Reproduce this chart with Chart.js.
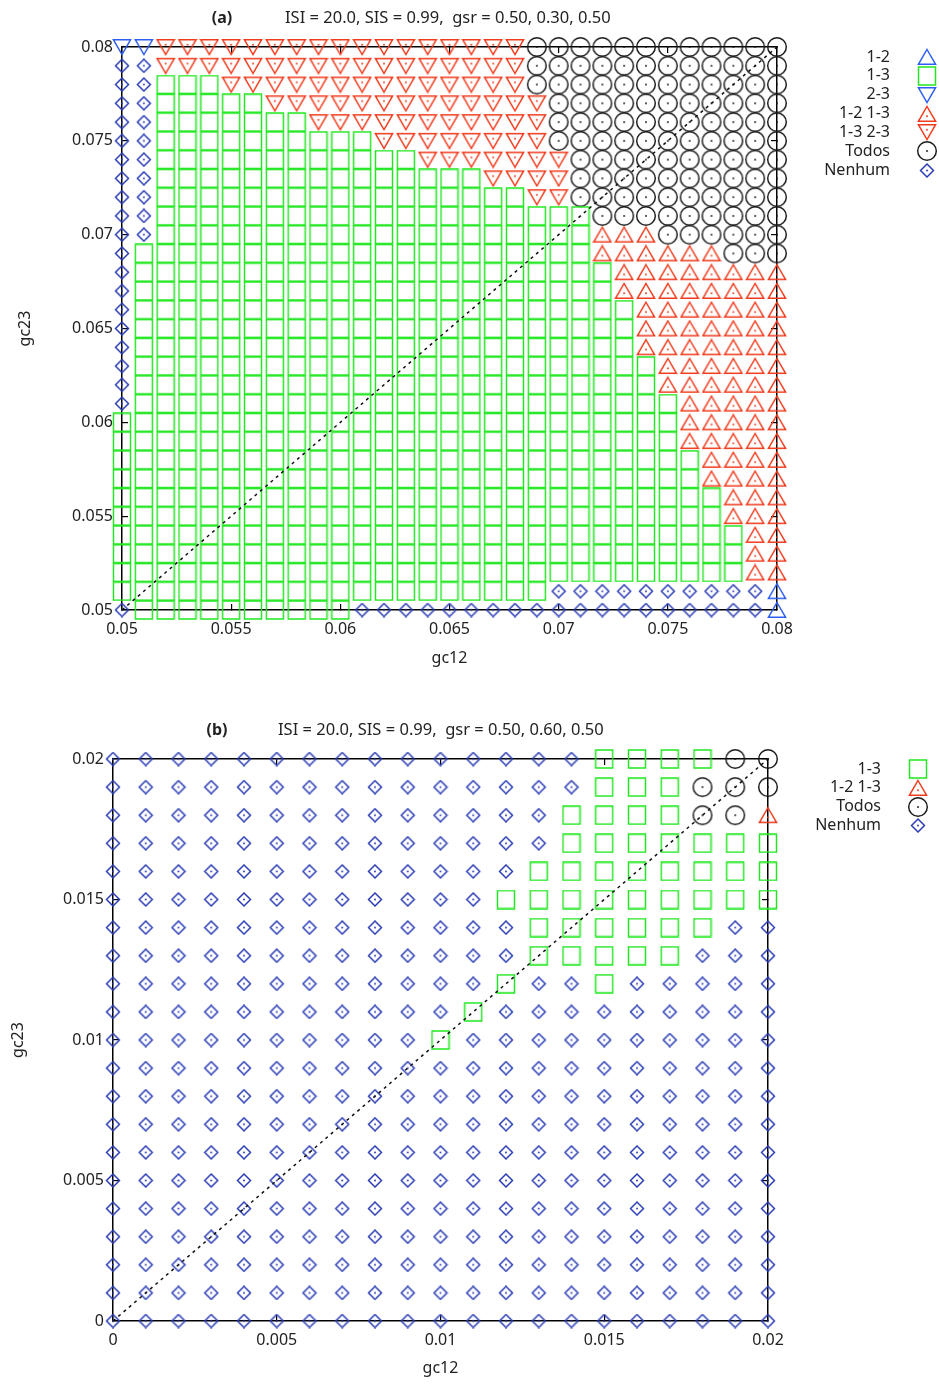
<!DOCTYPE html>
<html><head><meta charset="utf-8">
<script src="https://cdn.jsdelivr.net/npm/chart.js@4.4.1/dist/chart.umd.min.js"></script>
<style>
html,body{margin:0;padding:0;background:#fff;}
canvas{display:block;}
</style></head>
<body>
<canvas id="ca" width="939" height="700"></canvas>
<canvas id="cb" width="939" height="685"></canvas>
<script>
// ---------------- DATA ----------------
const categoryCodes = ['A', 'B', 'C', 'D', 'E', 'T', 'N'];
const categoryNames = ['1-2', '1-3', '2-3', '1-2 1-3', '1-3 2-3', 'Todos', 'Nenhum'];

// Panel (a)
const titleA = 'ISI = 20.0, SIS = 0.99,  gsr = 0.50, 0.30, 0.50';
const gc12A = [0.050, 0.051, 0.052, 0.053, 0.054, 0.055, 0.056, 0.057, 0.058, 0.059, 0.060,
               0.061, 0.062, 0.063, 0.064, 0.065, 0.066, 0.067, 0.068, 0.069, 0.070,
               0.071, 0.072, 0.073, 0.074, 0.075, 0.076, 0.077, 0.078, 0.079, 0.080];
const gc23A = [0.080, 0.079, 0.078, 0.077, 0.076, 0.075, 0.074, 0.073, 0.072, 0.071, 0.070,
               0.069, 0.068, 0.067, 0.066, 0.065, 0.064, 0.063, 0.062, 0.061, 0.060,
               0.059, 0.058, 0.057, 0.056, 0.055, 0.054, 0.053, 0.052, 0.051, 0.050];
// one row per gc23 value (top to bottom), one letter per gc12 value (spaces only group by 5)
const classA = [
  'CCEEE EEEEE EEEEE EEEET TTTTT TTTTT T',
  'NNEEE EEEEE EEEEE EEEET TTTTT TTTTT T',
  'NNBBB EEEEE EEEEE EEEET TTTTT TTTTT T',
  'NNBBB BBEEE EEEEE EEEEE TTTTT TTTTT T',
  'NNBBB BBBBE EEEEE EEEEE TTTTT TTTTT T',
  'NNBBB BBBBB BBEEE EEEEE TTTTT TTTTT T',
  'NNBBB BBBBB BBBBE EEEEE ETTTT TTTTT T',
  'NNBBB BBBBB BBBBB BBEEE ETTTT TTTTT T',
  'NNBBB BBBBB BBBBB BBBBE ETTTT TTTTT T',
  'NNBBB BBBBB BBBBB BBBBB BBTTT TTTTT T',
  'NNBBB BBBBB BBBBB BBBBB BBDDD TTTTT T',
  'NBBBB BBBBB BBBBB BBBBB BBDDD DDDTT T',
  'NBBBB BBBBB BBBBB BBBBB BBBDD DDDDD D',
  'NBBBB BBBBB BBBBB BBBBB BBBDD DDDDD D',
  'NBBBB BBBBB BBBBB BBBBB BBBBD DDDDD D',
  'NBBBB BBBBB BBBBB BBBBB BBBBD DDDDD D',
  'NBBBB BBBBB BBBBB BBBBB BBBBD DDDDD D',
  'NBBBB BBBBB BBBBB BBBBB BBBBB DDDDD D',
  'NBBBB BBBBB BBBBB BBBBB BBBBB DDDDD D',
  'NBBBB BBBBB BBBBB BBBBB BBBBB BDDDD D',
  'BBBBB BBBBB BBBBB BBBBB BBBBB BDDDD D',
  'BBBBB BBBBB BBBBB BBBBB BBBBB BDDDD D',
  'BBBBB BBBBB BBBBB BBBBB BBBBB BBDDD D',
  'BBBBB BBBBB BBBBB BBBBB BBBBB BBDDD D',
  'BBBBB BBBBB BBBBB BBBBB BBBBB BBBDD D',
  'BBBBB BBBBB BBBBB BBBBB BBBBB BBBDD D',
  'BBBBB BBBBB BBBBB BBBBB BBBBB BBBBD D',
  'BBBBB BBBBB BBBBB BBBBB BBBBB BBBBD D',
  'BBBBB BBBBB BBBBB BBBBB BBBBB BBBBD D',
  'BBBBB BBBBB BBBBB BBBBB NNNNN NNNNN A',
  'NBBBB BBBBB BNNNN NNNNN NNNNN NNNNN A'
];
const diagonalA = [[0.05, 0.05], [0.08, 0.08]];
const ticksA = [0.05, 0.055, 0.06, 0.065, 0.07, 0.075, 0.08];
const tickLabelsA = ['0.05', '0.055', '0.06', '0.065', '0.07', '0.075', '0.08'];
const legendA = ['A', 'B', 'C', 'D', 'E', 'T', 'N'];

// Panel (b)
const titleB = 'ISI = 20.0, SIS = 0.99,  gsr = 0.50, 0.60, 0.50';
const gc12B = [0.000, 0.001, 0.002, 0.003, 0.004, 0.005, 0.006, 0.007, 0.008, 0.009, 0.010,
               0.011, 0.012, 0.013, 0.014, 0.015, 0.016, 0.017, 0.018, 0.019, 0.020];
const gc23B = [0.020, 0.019, 0.018, 0.017, 0.016, 0.015, 0.014, 0.013, 0.012, 0.011, 0.010,
               0.009, 0.008, 0.007, 0.006, 0.005, 0.004, 0.003, 0.002, 0.001, 0.000];
const classB = [
  'NNNNN NNNNN NNNNN BBBBT T',
  'NNNNN NNNNN NNNNN BBBTT T',
  'NNNNN NNNNN NNNNB BBBTT D',
  'NNNNN NNNNN NNNNB BBBBB B',
  'NNNNN NNNNN NNNBB BBBBB B',
  'NNNNN NNNNN NNBBB BBBBB B',
  'NNNNN NNNNN NNNBB BBBBN N',
  'NNNNN NNNNN NNNBB BBBNN N',
  'NNNNN NNNNN NNBNN BNNNN N',
  'NNNNN NNNNN NBNNN NNNNN N',
  'NNNNN NNNNN BNNNN NNNNN N',
  'NNNNN NNNNN NNNNN NNNNN N',
  'NNNNN NNNNN NNNNN NNNNN N',
  'NNNNN NNNNN NNNNN NNNNN N',
  'NNNNN NNNNN NNNNN NNNNN N',
  'NNNNN NNNNN NNNNN NNNNN N',
  'NNNNN NNNNN NNNNN NNNNN N',
  'NNNNN NNNNN NNNNN NNNNN N',
  'NNNNN NNNNN NNNNN NNNNN N',
  'NNNNN NNNNN NNNNN NNNNN N',
  'NNNNN NNNNN NNNNN NNNNN N'
];
const diagonalB = [[0, 0], [0.02, 0.02]];
const ticksB = [0, 0.005, 0.01, 0.015, 0.02];
const tickLabelsB = ['0', '0.005', '0.01', '0.015', '0.02'];
const legendB = ['B', 'D', 'T', 'N'];

// ---------------- STYLE ----------------
const FONT = '"Noto Sans", "DejaVu Sans", sans-serif';
const TEXT = '#222';
Chart.defaults.font.family = FONT;
Chart.defaults.font.size = 16;
Chart.defaults.color = TEXT;

const markerColors = { A: '#2f5ef0', B: '#1fe81f', C: '#2f5ef0', D: '#f23a1c', E: '#f23a1c', T: '#1a1a1a', N: '#2a3cb5' };

function makeMarker(code) {
  const c = document.createElement('canvas');
  let w, h;
  if (code === 'B') { w = 20; h = 20; }
  else if (code === 'T') { w = 22; h = 22; }
  else if (code === 'N') { w = 16; h = 15; }
  else { w = 20; h = 18; }
  c.width = w; c.height = h;
  const g = c.getContext('2d');
  const col = markerColors[code];
  g.strokeStyle = col; g.fillStyle = col; g.lineWidth = 1.45;
  let dot = null;
  g.beginPath();
  switch (code) {
    case 'B': g.rect(1.5, 1, 17, 18); break;
    case 'T': g.arc(11, 11, 9.3, 0, Math.PI * 2); dot = [11, 11]; break;
    case 'N': g.moveTo(8, 1); g.lineTo(14.5, 7.5); g.lineTo(8, 14); g.lineTo(1.5, 7.5); g.closePath(); dot = [8, 7.5]; break;
    case 'A': case 'D':
      g.moveTo(10, 1.5); g.lineTo(18.6, 16.3); g.lineTo(1.4, 16.3); g.closePath();
      if (code === 'D') dot = [10, 11.3]; break;
    case 'C': case 'E':
      g.moveTo(1.4, 1.7); g.lineTo(18.6, 1.7); g.lineTo(10, 16.5); g.closePath();
      if (code === 'E') dot = [10, 6.7]; break;
  }
  g.stroke();
  if (dot) { g.beginPath(); g.arc(dot[0], dot[1], 0.95, 0, Math.PI * 2); g.fill(); }
  return c;
}
const markers = {};
categoryCodes.forEach(c => { markers[c] = makeMarker(c); });

function buildDatasets(xs, ys, rows, diag) {
  const ds = [{
    type: 'line', data: diag.map(p => ({ x: p[0], y: p[1] })), borderColor: '#111', borderWidth: 1.5,
    borderDash: [3, 4], pointRadius: 0, fill: false, clip: false, order: 0, showLine: true
  }];
  categoryCodes.forEach((code, k) => {
    const pts = [];
    rows.forEach((row, j) => {
      const r = row.replace(/ /g, '');
      for (let i = 0; i < r.length; i++) if (r[i] === code) pts.push({ x: xs[i], y: ys[j] });
    });
    if (pts.length) ds.push({ label: categoryNames[k], data: pts, pointStyle: markers[code], pointRadius: 9, showLine: false, clip: false, order: 1 });
  });
  return ds;
}

function labelFor(ticks, labels) {
  return function (v) { const k = ticks.findIndex(t => Math.abs(t - v) < 1e-9); return k >= 0 ? labels[k] : ''; };
}
function axis(pos, min, max, ticks, labels, o) {
  const main = o.main;
  const cfg = {
    type: 'linear', position: pos, min: min, max: max,
    afterBuildTicks: s => { s.ticks = ticks.map(v => ({ value: v })); },
    ticks: { display: main, callback: labelFor(ticks, labels), padding: main ? o.pad : 0, autoSkip: false, maxRotation: 0, color: TEXT, font: { size: 16 } },
    grid: { display: true, drawOnChartArea: false, drawTicks: true, tickLength: -6, color: '#000', lineWidth: 1.2 },
    border: { display: true, color: '#000', width: 1.5 },
    afterFit: s => { if (pos === 'left' || pos === 'right') s.width = o.size; else s.height = o.size; }
  };
  if (main) cfg.title = { display: true, text: o.title, color: TEXT, font: { size: 16 }, padding: o.titlePad };
  return cfg;
}

const sideLegend = {
  id: 'sideLegend',
  afterDraw(chart, args, opts) {
    const { ctx, chartArea: a } = chart;
    ctx.save();
    ctx.font = '16px ' + FONT; ctx.fillStyle = TEXT; ctx.textAlign = 'right'; ctx.textBaseline = 'middle';
    opts.codes.forEach((code, i) => {
      const y = a.top + opts.dy + i * 18.85;
      ctx.fillText(categoryNames[categoryCodes.indexOf(code)], a.right + 113, y);
      const m = markers[code];
      ctx.drawImage(m, Math.round(a.right + 150 - m.width / 2), Math.round(y - m.height / 2));
    });
    ctx.restore();
  }
};
const panelTitle = {
  id: 'panelTitle',
  afterDraw(chart, args, opts) {
    const { ctx, chartArea: a } = chart;
    ctx.save();
    ctx.fillStyle = TEXT; ctx.textBaseline = 'middle';
    ctx.font = 'bold 16px ' + FONT; ctx.textAlign = 'center';
    ctx.fillText(opts.label, a.left + opts.labelDx, a.top - 29);
    ctx.font = '16.5px ' + FONT; ctx.textAlign = 'left';
    ctx.fillText(opts.text, a.left + opts.textDx, a.top - 29);
    ctx.restore();
  }
};

function makeChart(id, xs, ys, rows, diag, ticks, labels, min, max, lay, leg, title) {
  return new Chart(document.getElementById(id), {
    type: 'scatter',
    data: { datasets: buildDatasets(xs, ys, rows, diag) },
    options: {
      responsive: false, animation: false, devicePixelRatio: 1, events: [],
      layout: { autoPadding: false, padding: lay.padding },
      scales: {
        x: axis('bottom', min, max, ticks, labels, { main: true, pad: 16, size: 60, title: 'gc12', titlePad: { top: 0, bottom: lay.xTitlePad } }),
        x2: axis('top', min, max, ticks, labels, { main: false, size: 0 }),
        y: axis('left', min, max, ticks, labels, { main: true, pad: 15, size: lay.yWidth, title: 'gc23', titlePad: { top: lay.yTitlePad, bottom: 0 } }),
        y2: axis('right', min, max, ticks, labels, { main: false, size: 0 })
      },
      plugins: {
        legend: { display: false }, tooltip: { enabled: false },
        sideLegend: { codes: leg, dy: 10 },
        panelTitle: title
      }
    },
    plugins: [sideLegend, panelTitle]
  });
}

makeChart('ca', gc12A, gc23A, classA, diagonalA, ticksA, tickLabelsA, 0.05, 0.08,
  { padding: { left: 0, right: 162, top: 47, bottom: 30 }, yWidth: 122, xTitlePad: 2.4, yTitlePad: 15.4 },
  legendA, { label: '(a)', text: titleA, labelDx: 100, textDx: 163 });
makeChart('cb', gc12B, gc23B, classB, diagonalB, ticksB, tickLabelsB, 0, 0.02,
  { padding: { left: 0, right: 171, top: 59, bottom: 4 }, yWidth: 113, xTitlePad: 3.4, yTitlePad: 8.4 },
  legendB, { label: '(b)', text: titleB, labelDx: 104, textDx: 165 });
</script>
</body></html>
